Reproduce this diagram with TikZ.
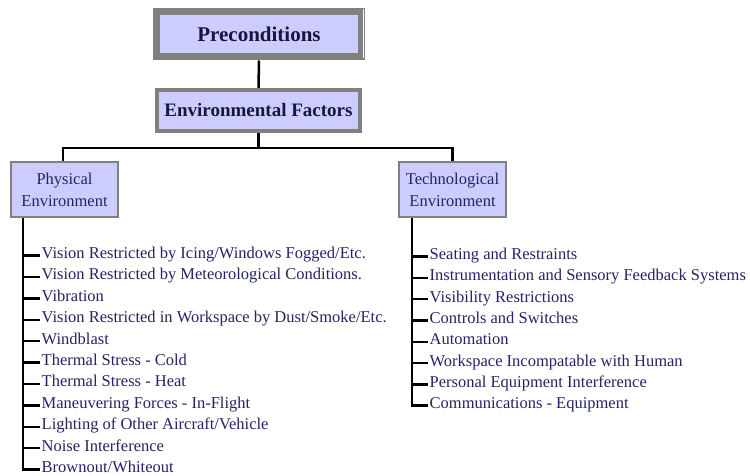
\documentclass[tikz,border=0pt]{standalone}
\usepackage{fontspec}
\setmainfont{Liberation Serif}
\begin{document}
\begin{tikzpicture}[x=1pt,y=-1pt,
  boxfill/.style={fill={rgb,255:red,204;green,204;blue,255}},
  titletext/.style={text={rgb,255:red,24;green,22;blue,60},font=\bfseries},
  itemtext/.style={text={rgb,255:red,36;green,36;blue,100},font=\fontsize{16.5}{22}\selectfont,
    anchor=west,inner sep=1.5pt,text height=0.8em,text depth=0.2em},
  catbox/.style={boxfill,draw={rgb,255:red,128;green,128;blue,128},line width=2.5pt,
    minimum width=107pt,minimum height=55pt,align=center,inner sep=0pt,
    text={rgb,255:red,36;green,36;blue,100},font=\fontsize{16.5}{22}\selectfont},
  link/.style={draw=black,line width=2.5pt},
  tick/.style={draw=black,line width=2.4pt}]
\useasboundingbox (0,0) rectangle (750,476);

% top of the tree
\node[boxfill,draw={rgb,255:red,128;green,128;blue,128},line width=7pt,
  minimum width=205pt,minimum height=45.5pt,inner sep=0pt,titletext,
  font=\bfseries\fontsize{21}{24}\selectfont] (pre) at (259,34.25) {Preconditions};
\draw[white,line width=0.8pt] ([xshift=-2pt,yshift=-1.5pt]pre.north east) -- ([xshift=-2pt,yshift=2pt]pre.south east);

\node[boxfill,draw={rgb,255:red,128;green,128;blue,128},line width=4pt,
  minimum width=203pt,minimum height=41pt,inner sep=0pt,titletext,
  font=\bfseries\fontsize{19}{22}\selectfont] (env) at (258.5,110.5) {Environmental Factors};

% category boxes
\node[catbox] (phys) at (64.5,189.5) {Physical\\Environment};
\node[catbox] (tech) at (452.5,189.5) {Technological\\Environment};

% connectors between the boxes
\draw[link] (pre.south) -- (env.north);
\coordinate (bus) at (258.5,148);
\draw[link] (env.south) -- (bus);
\draw[link] (bus) -| ([xshift=-1.5pt]phys.north);
\draw[link] (bus) -| (tech.north);

% physical environment items
\coordinate (ptrunk) at (23,218);
\foreach \i/\t in {1/{Vision Restricted by Icing/Windows Fogged/Etc.},
                   2/{Vision Restricted by Meteorological Conditions.},
                   3/{Vibration},
                   4/{Vision Restricted in Workspace by Dust/Smoke/Etc.},
                   5/{Windblast},
                   6/{Thermal Stress - Cold},
                   7/{Thermal Stress - Heat},
                   8/{Maneuvering Forces - In-Flight},
                   9/{Lighting of Other Aircraft/Vehicle},
                   10/{Noise Interference},
                   11/{Brownout/Whiteout}}{
  \node[itemtext] (p\i) at (40,{255.5+(\i-1)*21.4}) {\t};
  \draw[tick] (ptrunk) |- (p\i.west);
}

% technological environment items
\coordinate (ttrunk) at (412,218);
\foreach \i/\t in {1/{Seating and Restraints},
                   2/{Instrumentation and Sensory Feedback Systems},
                   3/{Visibility Restrictions},
                   4/{Controls and Switches},
                   5/{Automation},
                   6/{Workspace Incompatable with Human},
                   7/{Personal Equipment Interference},
                   8/{Communications - Equipment}}{
  \node[itemtext] (t\i) at (428,{256.5+(\i-1)*21.3}) {\t};
  \draw[tick] (ttrunk) |- (t\i.west);
}
\end{tikzpicture}
\end{document}
